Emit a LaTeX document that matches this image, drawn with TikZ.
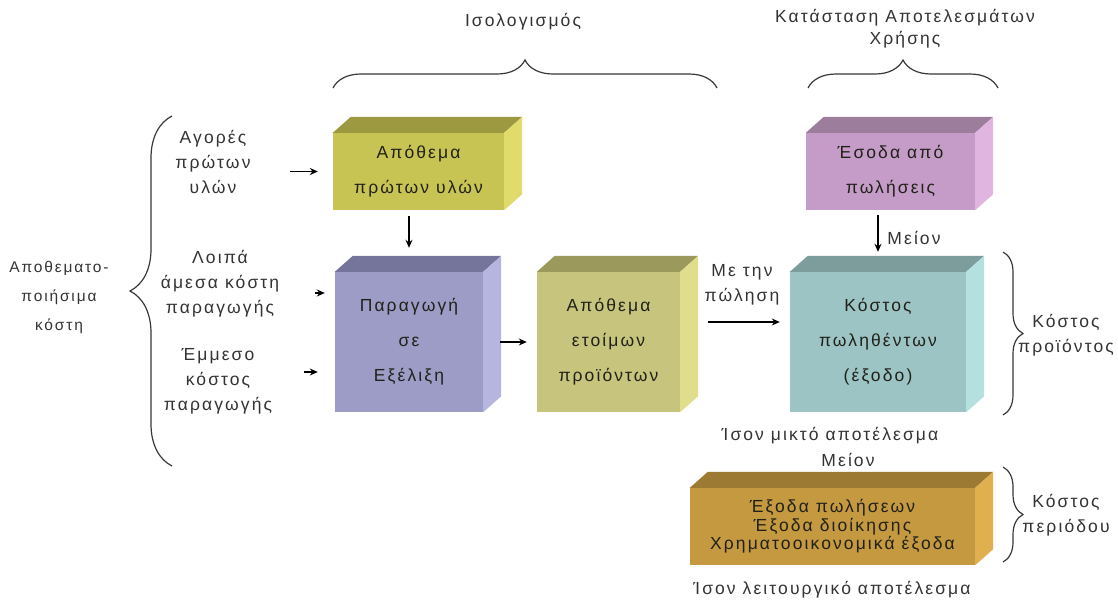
\documentclass[tikz,border=0pt]{standalone}
\usepackage{fontspec}
\setmainfont{Liberation Sans}[LetterSpace=12]
\usetikzlibrary{decorations.pathreplacing,arrows.meta}
\definecolor{mytext}{rgb}{0.2,0.2,0.2}
\definecolor{myink}{rgb}{0.13,0.13,0.1}
\definecolor{mybrace}{rgb}{0.22,0.22,0.22}
\definecolor{olivefront}{rgb}{0.78,0.77,0.33}
\definecolor{olivetop}{rgb}{0.61,0.60,0.25}
\definecolor{oliveside}{rgb}{0.88,0.86,0.42}
\definecolor{lavfront}{rgb}{0.61,0.61,0.78}
\definecolor{lavtop}{rgb}{0.46,0.46,0.61}
\definecolor{lavside}{rgb}{0.71,0.71,0.88}
\definecolor{khakifront}{rgb}{0.78,0.77,0.49}
\definecolor{khakitop}{rgb}{0.61,0.60,0.36}
\definecolor{khakiside}{rgb}{0.88,0.87,0.55}
\definecolor{pinkfront}{rgb}{0.77,0.61,0.78}
\definecolor{pinktop}{rgb}{0.61,0.49,0.61}
\definecolor{pinkside}{rgb}{0.88,0.71,0.88}
\definecolor{tealfront}{rgb}{0.61,0.77,0.77}
\definecolor{tealtop}{rgb}{0.49,0.61,0.61}
\definecolor{tealside}{rgb}{0.71,0.88,0.88}
\definecolor{goldfront}{rgb}{0.77,0.60,0.25}
\definecolor{goldtop}{rgb}{0.61,0.48,0.20}
\definecolor{goldside}{rgb}{0.88,0.69,0.31}
\tikzset{
  lbl/.style={align=center,inner sep=0pt,text=mytext,font=\fontsize{17.5}{25}\selectfont},
  cube/.style={align=center,inner sep=0pt,text=myink,font=\fontsize{17.5}{35}\selectfont},
  arr/.style={line width=1.3pt,-{Stealth[length=8pt,width=7pt]}},
  brc/.style={decorate,decoration={brace,amplitude=#1},line width=1.2pt,draw=mybrace},
}
% top and side faces behind a front node
\newcommand\cubefaces[3]{%
  \fill[#2] (#1.north west) -- ++(\dx,-\dy) -- ([shift={(\dx,-\dy)}]#1.north east) -- (#1.north east) -- cycle;
  \fill[#3] (#1.north east) -- ++(\dx,-\dy) -- ([shift={(\dx,-\dy)}]#1.south east) -- (#1.south east) -- cycle;
}
\begin{document}
\begin{tikzpicture}[x=1pt,y=-1pt]
  \useasboundingbox (0,0) rectangle (1118,603);
  \def\dx{18}\def\dy{16}
  % the boxes
  \node[cube,fill=olivefront,minimum width=171pt,minimum height=77pt] (rawmat) at (418.5,171.5) {Απόθεμα\\πρώτων υλών};
  \cubefaces{rawmat}{olivetop}{oliveside}
  \node[cube,fill=lavfront,minimum width=148pt,minimum height=140pt] (wip) at (409,342) {Παραγωγή\\σε\\Εξέλιξη};
  \cubefaces{wip}{lavtop}{lavside}
  \node[cube,fill=khakifront,minimum width=143pt,minimum height=140pt] (goods) at (608.5,342) {Απόθεμα\\ετοίμων\\προϊόντων};
  \cubefaces{goods}{khakitop}{khakiside}
  \node[cube,fill=pinkfront,minimum width=169pt,minimum height=77pt] (sales) at (890.5,171.5) {Έσοδα από\\πωλήσεις};
  \cubefaces{sales}{pinktop}{pinkside}
  \node[cube,fill=tealfront,minimum width=176pt,minimum height=140pt] (cogs) at (878,342) {Κόστος\\πωληθέντων\\(έξοδο)};
  \cubefaces{cogs}{tealtop}{tealside}
  \node[cube,fill=goldfront,minimum width=285pt,minimum height=77pt,font=\fontsize{17.5}{18.5}\selectfont] (period) at (832.5,526.5) {Έξοδα πωλήσεων\\Έξοδα διοίκησης\\Χρηματοοικονομικά έξοδα};
  \cubefaces{period}{goldtop}{goldside}
  % labels round the boxes
  \node[lbl,font=\fontsize{15.5}{29}\selectfont] (invcost) at (59,297) {Αποθεματο-\\ποιήσιμα\\κόστη};
  \node[lbl] (purch) at (213,161.5) {Αγορές\\πρώτων\\υλών};
  \node[lbl] (direct) at (220,284) {Λοιπά\\άμεσα κόστη\\παραγωγής};
  \node[lbl] (indirect) at (218,381) {Έμμεσο\\κόστος\\παραγωγής};
  \node[lbl] (onsale) at (742,284.5) {Με την\\πώληση};
  \node[lbl] (less1) at (914,238) {Μείον};
  \node[lbl] (gross) at (830,436) {Ίσον μικτό αποτέλεσμα};
  \node[lbl] (less2) at (848,460) {Μείον};
  \node[lbl] (oper) at (832,590) {Ίσον λειτουργικό αποτέλεσμα};
  \node[lbl] (balance) at (523,22) {Ισολογισμός};
  \node[lbl,font=\fontsize{17.5}{22}\selectfont] (income) at (905,29) {Κατάσταση Αποτελεσμάτων\\Χρήσης};
  \node[lbl] (prodcost) at (1066,335) {Κόστος\\προϊόντος};
  \node[lbl] (percost) at (1066,515) {Κόστος\\περιόδου};
  % arrows
  \draw[arr,shorten <=39pt,shorten >=15pt] (purch.east |- rawmat.west) -- (rawmat.west);
  \draw[arr,shorten <=36pt,shorten >=10pt] ([yshift=-9pt]direct.east) -- ([yshift=-9pt]direct.east -| wip.west);
  \draw[arr,shorten <=32pt,shorten >=17pt] ([yshift=9pt]indirect.east) -- ([yshift=9pt]indirect.east -| wip.west);
  \draw[arr,shorten <=6pt,shorten >=24pt] (rawmat.south -| wip.north) -- (wip.north);
  \draw[arr,shorten <=17pt,shorten >=10pt] (wip.east) -- (goods.east -| goods.west);
  \draw[arr,shorten <=28pt,shorten >=10pt] ([yshift=20pt]goods.east) -- ([yshift=20pt]cogs.west);
  \draw[arr,shorten <=5pt,shorten >=20pt] (sales.south -| cogs.north) -- (cogs.north);
  % braces
  \draw[brc=42pt] (172,466) -- (172,116);
  \draw[brc=28pt] (333,88) -- (717,88);
  \draw[brc=28pt] (808,88) -- (998,88);
  \draw[brc=20pt] (1003,252) -- (1003,415);
  \draw[brc=20pt] (1003,467) -- (1003,562);
\end{tikzpicture}
\end{document}
